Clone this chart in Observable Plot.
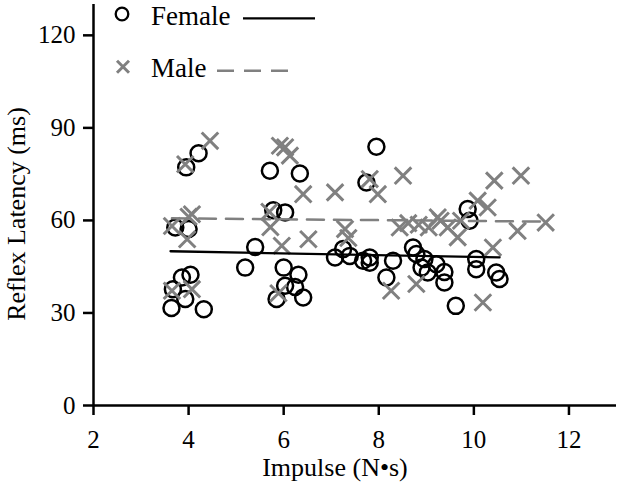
<!DOCTYPE html>
<html><head><meta charset="utf-8">
<script src="https://cdn.jsdelivr.net/npm/d3@7"></script>
<script src="https://cdn.jsdelivr.net/npm/@observablehq/plot@0.6"></script>
<style>body{margin:0;background:#fff} svg text{font-family:'Liberation Serif','Times New Roman',serif !important;}</style>
</head><body><div id="chart"></div>
<script>
// Female (circles)
const femaleImpulse = [3.64,3.67,3.72,3.86,3.93,3.95,4.00,4.04,4.21,4.32,5.19,5.40,5.71,5.78,5.85,6.00,6.03,6.03,6.24,6.31,6.34,6.41,7.08,7.25,7.39,7.67,7.74,7.81,7.81,7.95,8.16,8.30,8.72,8.79,8.90,8.96,9.03,9.21,9.38,9.38,9.62,9.87,9.91,10.05,10.05,10.47,10.54];
const femaleLatency = [31.6,37.7,57.7,41.5,34.5,77.2,57.2,42.4,81.8,31.2,44.7,51.4,76.1,63.3,34.5,44.7,62.6,38.8,38.4,42.4,75.2,35.0,48.0,50.7,48.5,46.9,72.3,48.0,46.3,83.9,41.5,46.9,51.2,49.1,44.7,47.5,43.1,45.8,43.3,39.9,32.3,63.7,59.9,47.5,44.2,43.1,41.0];
// Male (crosses)
const maleImpulse = [3.65,3.65,3.93,3.97,4.00,4.07,4.07,4.45,5.70,5.72,5.96,5.89,5.92,6.03,6.13,6.41,6.52,7.08,7.29,7.36,7.81,7.98,8.51,8.26,8.44,8.62,8.79,8.84,9.05,9.24,9.30,9.45,9.66,9.73,10.08,10.29,10.19,10.40,10.43,10.92,10.99,11.51];
const maleLatency = [58.2,37.2,78.2,53.9,61.2,62.0,37.7,85.8,62.8,57.8,51.8,36.4,84.2,83.7,81.0,68.5,53.9,69.1,57.2,54.3,73.4,68.5,74.5,37.2,57.7,59.1,39.4,58.6,57.7,61.0,59.9,57.7,54.5,59.9,66.4,64.2,33.4,51.2,72.9,56.6,74.5,59.3];
// Fitted trend lines (end points)
const femaleFitImpulse = [3.62, 10.54];
const femaleFitLatency = [50.0, 48.0];
const maleFitImpulse = [3.65, 11.55];
const maleFitLatency = [60.7, 59.6];
const xTicks = [2,4,6,8,10,12];
const yTicks = [0,30,60,90,120];
const seriesNames = ["Female", "Male"];

const GREY = "#808080";
const FONT = "'Liberation Serif', 'Times New Roman', serif";

const female = femaleImpulse.map((x,i)=>({x, y: femaleLatency[i]}));
const male = maleImpulse.map((x,i)=>({x, y: maleLatency[i]}));
const femaleFit = femaleFitImpulse.map((x,i)=>({x, y: femaleFitLatency[i]}));
const maleFit = maleFitImpulse.map((x,i)=>({x, y: maleFitLatency[i]}));

const crossSymbol = {
  draw(context, size) {
    const s = Math.sqrt(size / Math.PI) * 0.72;
    context.moveTo(-s, -s); context.lineTo(s, s);
    context.moveTo(s, -s); context.lineTo(-s, s);
  }
};

const chart = Plot.plot({
  width: 620, height: 487,
  marginLeft: 93, marginRight: 4, marginTop: 4, marginBottom: 82,
  style: {fontFamily: FONT, background: "#fff", color: "#000"},
  x: {domain: [2, 13]},
  y: {domain: [0, 130]},
  marks: [
    Plot.dot(female, {x: "x", y: "y", r: 8, stroke: "#000", strokeWidth: 2.5, fill: "none"}),
    Plot.dot(male, {x: "x", y: "y", r: 11.5, symbol: crossSymbol, stroke: GREY, strokeWidth: 3, fill: "none"}),
    Plot.line(femaleFit, {x: "x", y: "y", stroke: "#000", strokeWidth: 2.3}),
    Plot.line(maleFit, {x: "x", y: "y", stroke: GREY, strokeWidth: 2.5, strokeDasharray: "17,10"}),
    Plot.ruleX([2], {stroke: "#000", strokeWidth: 2.5}),
    Plot.ruleY([0], {stroke: "#000", strokeWidth: 2.5}),
    Plot.axisX({ticks: xTicks, tickSize: 10, tickPadding: 15, strokeWidth: 2.5, fontSize: 25, fontFamily: FONT, label: null, tickFormat: d => String(d)}),
    Plot.axisY({ticks: yTicks, tickSize: 10, tickPadding: 8, strokeWidth: 2.5, fontSize: 25, fontFamily: FONT, label: null, tickFormat: d => String(d)})
  ]
});
document.getElementById("chart").appendChild(chart);

const svg = d3.select(chart);
// Axis titles
svg.append("text").attr("x", 335).attr("y", 476).attr("text-anchor", "middle")
  .attr("font-size", 26).attr("fill", "#000").text("Impulse (N•s)");
svg.append("text").attr("transform", "translate(25,214) rotate(-90)").attr("text-anchor", "middle")
  .attr("font-size", 26).attr("fill", "#000").text("Reflex Latency (ms)");

// Legend
const lg = svg.append("g").attr("text-anchor", "start");
lg.append("circle").attr("cx", 122).attr("cy", 14).attr("r", 6.3)
  .attr("fill", "none").attr("stroke", "#000").attr("stroke-width", 2.3);
lg.append("text").attr("x", 151).attr("y", 25).attr("text-anchor", "start").attr("font-size", 27).attr("fill", "#000").text(seriesNames[0]);
lg.append("line").attr("x1", 243).attr("x2", 315).attr("y1", 18.3).attr("y2", 18.3).attr("stroke", "#000").attr("stroke-width", 2.3);
const cx = 123, cy = 66.7, a = 6;
lg.append("path").attr("d", `M${cx-a},${cy-a}L${cx+a},${cy+a}M${cx+a},${cy-a}L${cx-a},${cy+a}`)
  .attr("stroke", GREY).attr("stroke-width", 3).attr("fill", "none");
lg.append("text").attr("x", 151).attr("y", 77).attr("text-anchor", "start").attr("font-size", 27).attr("fill", "#000").text(seriesNames[1]);
lg.append("line").attr("x1", 217).attr("x2", 288).attr("y1", 70.7).attr("y2", 70.7).attr("stroke", GREY).attr("stroke-width", 2.5).attr("stroke-dasharray", "17,10");
</script>
</body></html>
